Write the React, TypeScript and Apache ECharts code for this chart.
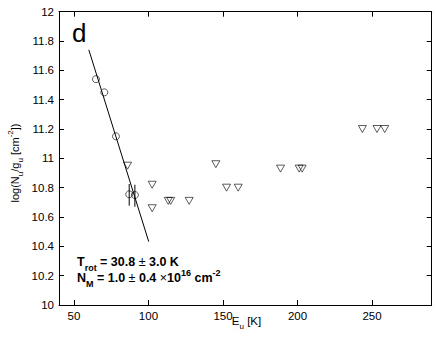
import React, { useEffect, useRef } from "react";
import * as echarts from "echarts";

const FONT = "'Liberation Sans', Arial, Helvetica, sans-serif";

const xTicks = [50, 100, 150, 200, 250];
const yTicks = [10, 10.2, 10.4, 10.6, 10.8, 11, 11.2, 11.4, 11.6, 11.8, 12];

const circleE = [64.8, 70.4, 78.2, 87.1, 90.9];
const circleN = [11.54, 11.45, 11.15, 10.755, 10.75];

const errE = [87.1, 90.9];
const errLow = [10.677, 10.67];
const errHigh = [10.825, 10.82];

const triE = [86.0, 102.5, 102.5, 113.3, 114.9, 127.3, 145.2, 152.4, 160.2, 188.6, 201.1, 203.1, 243.5, 253.3, 258.5];
const triN = [10.95, 10.82, 10.66, 10.71, 10.71, 10.71, 10.96, 10.8, 10.8, 10.93, 10.93, 10.93, 11.2, 11.2, 11.2];

const fitE = [60, 100.2];
const fitN = [11.74, 10.432];

export default function App() {
  const ref = useRef<HTMLDivElement>(null);
  useEffect(() => {
    if (!ref.current) return;
    const chart = echarts.init(ref.current, null, { renderer: "svg" });
    const axisCommon = {
      type: "value",
      splitLine: { show: false },
      axisLine: { show: true, onZero: false, lineStyle: { color: "#000", width: 1 } },
    };
    const main = { fontSize: 12.5, fontWeight: "bold", fontFamily: FONT, fill: "#000", lineHeight: 20, verticalAlign: "middle" };
    const sub = { fontSize: 9, fontWeight: "bold", fontFamily: FONT, fill: "#000", lineHeight: 11, verticalAlign: "bottom" };
    const sup = { fontSize: 9, fontWeight: "bold", fontFamily: FONT, fill: "#000", lineHeight: 9, verticalAlign: "top" };
    const thin = { fontSize: 12.5, fontWeight: "normal", fontFamily: FONT, fill: "#000", lineHeight: 20, verticalAlign: "middle" };
    const lm = { fontSize: 11, fontFamily: FONT, fill: "#000", lineHeight: 18, verticalAlign: "middle" };
    const ls = { fontSize: 8, fontFamily: FONT, fill: "#000", lineHeight: 8, verticalAlign: "bottom" };
    const lp = { fontSize: 8, fontFamily: FONT, fill: "#000", lineHeight: 8, verticalAlign: "top" };
    const xm = { fontSize: 11.5, fontFamily: FONT, fill: "#000", lineHeight: 18, verticalAlign: "middle" };
    const option: any = {
      animation: false,
      backgroundColor: "#fff",
      grid: { left: 59, right: 4.3, top: 11.7, bottom: 38, containLabel: false },
      xAxis: [
        {
          ...axisCommon,
          min: 40,
          max: 290,
          position: "bottom",
          axisTick: { show: true, inside: true, length: 5, customValues: xTicks, lineStyle: { color: "#000" } },
          axisLabel: { customValues: xTicks, fontSize: 11.5, color: "#000", fontFamily: FONT, margin: 5 },
        },
        {
          ...axisCommon,
          min: 40,
          max: 290,
          position: "top",
          axisTick: { show: true, inside: true, length: 5, customValues: xTicks, lineStyle: { color: "#000" } },
          axisLabel: { show: false },
        },
      ],
      yAxis: [
        {
          ...axisCommon,
          min: 10,
          max: 12,
          position: "left",
          axisTick: { show: true, inside: true, length: 5, customValues: yTicks, lineStyle: { color: "#000" } },
          axisLabel: {
            customValues: yTicks,
            fontSize: 11.5,
            color: "#000",
            fontFamily: FONT,
            margin: 5,
            formatter: (v: number) => String(+v.toFixed(1)),
          },
        },
        {
          ...axisCommon,
          min: 10,
          max: 12,
          position: "right",
          axisTick: { show: true, inside: true, length: 5, customValues: yTicks, lineStyle: { color: "#000" } },
          axisLabel: { show: false },
        },
      ],
      series: [
        {
          type: "line",
          data: fitE.map((e, i) => [e, fitN[i]]),
          showSymbol: false,
          symbol: "none",
          lineStyle: { color: "#000", width: 1 },
          z: 2,
        },
        {
          type: "custom",
          data: errE.map((e, i) => [e, errLow[i], errHigh[i]]),
          encode: { x: 0, y: [1, 2] },
          renderItem: (params: any, api: any) => {
            const p1 = api.coord([api.value(0), api.value(1)]);
            const p2 = api.coord([api.value(0), api.value(2)]);
            return {
              type: "line",
              shape: { x1: p1[0], y1: p1[1], x2: p2[0], y2: p2[1] },
              style: { stroke: "#000", lineWidth: 1 },
            };
          },
          z: 3,
        },
        {
          type: "scatter",
          data: circleE.map((e, i) => [e, circleN[i]]),
          symbol: "circle",
          symbolSize: 7,
          itemStyle: { color: "rgba(0,0,0,0)", borderColor: "#000", borderWidth: 0.8 },
          z: 4,
        },
        {
          type: "scatter",
          data: triE.map((e, i) => [e, triN[i]]),
          symbol: "triangle",
          symbolRotate: 180,
          symbolSize: [8, 7],
          itemStyle: { color: "rgba(0,0,0,0)", borderColor: "#000", borderWidth: 0.8 },
          z: 4,
        },
      ],
      graphic: [
        {
          type: "text",
          x: 72,
          y: 20,
          style: { text: "d", fontSize: 26, fontFamily: FONT, fill: "#000", verticalAlign: "top", align: "left" },
        },
        {
          type: "text",
          x: 77,
          y: 252.4,
          style: {
            text: "{m|T}{s|rot}{m| = 30.8 }{t|±}{m| 3.0 K}",
            verticalAlign: "top",
            align: "left",
            rich: { m: main, s: sub, t: thin },
          },
        },
        {
          type: "text",
          x: 77,
          y: 268,
          style: {
            text: "{m|N}{s|M}{m| = 1.0 }{t|±}{m| 0.4 }{t|×}{m|10}{p|16}{m| cm}{p|-2}",
            verticalAlign: "top",
            align: "left",
            rich: { m: main, s: sub, t: thin, p: sup },
          },
        },
        {
          type: "text",
          x: 246.5,
          y: 312,
          style: {
            text: "{m|E}{s|u}{m| [K]}",
            verticalAlign: "top",
            align: "center",
            rich: { m: xm, s: ls },
          },
        },
        {
          type: "text",
          x: 15,
          y: 163,
          rotation: Math.PI / 2,
          style: {
            text: "{m|log(N}{s|u}{m|/g}{s|u}{m| [cm}{p|-2}{m|])}",
            verticalAlign: "middle",
            align: "center",
            rich: { m: lm, s: ls, p: lp },
          },
        },
      ],
    };
    chart.setOption(option);
    return () => chart.dispose();
  }, []);
  return <div ref={ref} style={{ position: "fixed", left: 0, top: 0, width: 436, height: 343 }} />;
}
